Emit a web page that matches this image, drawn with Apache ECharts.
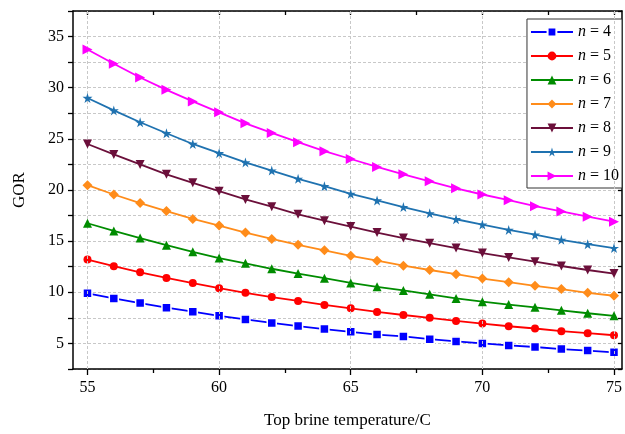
<!DOCTYPE html>
<html><head><meta charset="utf-8">
<script src="https://cdn.jsdelivr.net/npm/echarts@6/dist/echarts.min.js"></script>
<style>html,body{margin:0;padding:0;background:#fff}#c{width:625px;height:434px}</style>
</head><body><div id="c"></div>
<script>
const temps = [55,56,57,58,59,60,61,62,63,64,65,66,67,68,69,70,71,72,73,74,75];
const n4  = [9.9,9.4,8.95,8.5,8.1,7.7,7.35,7.0,6.7,6.4,6.13,5.87,5.68,5.42,5.2,5.0,4.8,4.65,4.45,4.3,4.13];
const n5  = [13.2,12.55,11.95,11.4,10.9,10.4,9.95,9.53,9.15,8.76,8.43,8.08,7.78,7.5,7.2,6.94,6.68,6.46,6.2,6.0,5.8];
const n6  = [16.75,16.0,15.3,14.6,13.96,13.35,12.83,12.3,11.83,11.38,10.92,10.53,10.18,9.8,9.4,9.08,8.8,8.53,8.24,7.95,7.7];
const n7  = [20.47,19.56,18.72,17.94,17.17,16.52,15.84,15.22,14.64,14.1,13.57,13.09,12.6,12.18,11.77,11.34,10.99,10.63,10.31,9.95,9.66];
const n8  = [24.5,23.48,22.5,21.53,20.7,19.88,19.08,18.37,17.62,17.0,16.43,15.84,15.3,14.8,14.32,13.83,13.41,12.99,12.57,12.18,11.83];
const n9  = [29.0,27.78,26.62,25.55,24.5,23.6,22.7,21.9,21.09,20.37,19.63,18.98,18.33,17.72,17.14,16.62,16.1,15.63,15.13,14.7,14.32];
const n10 = [33.74,32.35,31.0,29.79,28.66,27.59,26.52,25.58,24.68,23.8,23.03,22.25,21.53,20.85,20.17,19.56,19.0,18.42,17.9,17.39,16.9];
const seriesNames = ['n = 4','n = 5','n = 6','n = 7','n = 8','n = 9','n = 10'];
const xMajor = [55,60,65,70,75];
const xMinor = [57.5,62.5,67.5,72.5];
const xAll = [55,57.5,60,62.5,65,67.5,70,72.5,75];

const FONT = '"Liberation Serif","Times New Roman",serif';
const pair = a => temps.map((t,i)=>[t,a[i]]);
const styles = [
  {data:n4, color:'#0000ff', symbol:'rect', size:9, border:true},
  {data:n5, color:'#ff0000', symbol:'circle', size:8},
  {data:n6, color:'#008c00', symbol:'triangle', size:9},
  {data:n7, color:'#ff8c1a', symbol:'diamond', size:10},
  {data:n8, color:'#6b0f3a', symbol:'triangle', size:9, rot:180},
  {data:n9, color:'#1f72b0', symbol:'path://M50,0 L61,35 L98,35 L68,57 L79,91 L50,70 L21,91 L32,57 L2,35 L39,35 Z', size:10},
  {data:n10, color:'#ff00ff', symbol:'triangle', size:10, rot:-90}
];
const series = styles.map((s,i)=>({
  name: seriesNames[i], type:'line', xAxisIndex:0, yAxisIndex:0,
  data: pair(s.data), symbol: s.symbol, symbolSize: s.size, symbolRotate: s.rot||0,
  showAllSymbol:true, smooth:false,
  lineStyle:{color:s.color, width:1.8},
  itemStyle: s.border ? {color:s.color, borderColor:'#fff', borderWidth:1.5} : {color:s.color},
  z: 3+i
}));
series.push({
  type:'line', xAxisIndex:0, yAxisIndex:0, data:[], silent:true, z:1,
  markLine:{silent:true, symbol:'none', label:{show:false},
    lineStyle:{color:'#c8c8c8', type:[3,2], width:1},
    data: xMajor.map(v=>({xAxis:v}))}
});

const chart = echarts.init(document.getElementById('c'), null, {renderer:'canvas'});
chart.setOption({
  animation:false,
  backgroundColor:'#fff',
  grid:{left:73, right:1, top:11, bottom:62, containLabel:false},
  xAxis:[
    {type:'value', position:'bottom', min:54.45, max:75.3,
     axisLine:{onZero:false, lineStyle:{color:'#000', width:1.5}},
     axisTick:{customValues:xMajor, length:6, inside:false, lineStyle:{color:'#000', width:1.3}},
     axisLabel:{customValues:xMajor, color:'#000', fontFamily:FONT, fontSize:16, margin:11},
     splitLine:{show:false},
     name:'Top brine temperature/C', nameLocation:'middle', nameGap:43,
     nameTextStyle:{color:'#000', fontFamily:FONT, fontSize:17}},
    {type:'value', position:'bottom', min:54.45, max:75.3,
     axisLine:{show:false, onZero:false},
     axisTick:{customValues:xMinor, length:4, inside:false, lineStyle:{color:'#000', width:1.3}},
     axisLabel:{show:false}, splitLine:{show:false}},
    {type:'value', position:'top', min:54.45, max:75.3,
     axisLine:{onZero:false, lineStyle:{color:'#000', width:1.5}},
     axisTick:{customValues:xAll, length:4, inside:true, lineStyle:{color:'#000', width:1.3}},
     axisLabel:{show:false}, splitLine:{show:false}}
  ],
  yAxis:[
    {type:'value', position:'left', min:2.5, max:37.5, interval:2.5,
     axisLine:{onZero:false, lineStyle:{color:'#000', width:1.5}},
     axisTick:{length:5, lineStyle:{color:'#000', width:1.3}},
     axisLabel:{color:'#000', fontFamily:FONT, fontSize:16, margin:9,
       formatter:v=>(Math.abs(v%5)<1e-6 ? String(v) : '')},
     splitLine:{show:true, lineStyle:{color:'#c8c8c8', type:[3,2], width:1}},
     name:'GOR', nameLocation:'middle', nameGap:45,
     nameTextStyle:{color:'#000', fontFamily:FONT, fontSize:17}},
    {type:'value', position:'right', min:2.5, max:37.5, interval:2.5,
     axisLine:{onZero:false, lineStyle:{color:'#000', width:1.5}},
     axisTick:{length:4, inside:true, lineStyle:{color:'#000', width:1.3}},
     axisLabel:{show:false}, splitLine:{show:false}}
  ],
  legend:{
    orient:'vertical', right:3, top:19, data:seriesNames,
    backgroundColor:'#fff', borderColor:'#333', borderWidth:1,
    padding:[5,3,4,3], itemWidth:42, itemHeight:11, itemGap:8,
    textStyle:{color:'#000', fontFamily:FONT, fontSize:16,
      rich:{i:{fontStyle:'italic', fontFamily:FONT, fontSize:16, color:'#000'}}},
    formatter: name => '{i|n}' + name.slice(1)
  },
  series: series
});
</script></body></html>
